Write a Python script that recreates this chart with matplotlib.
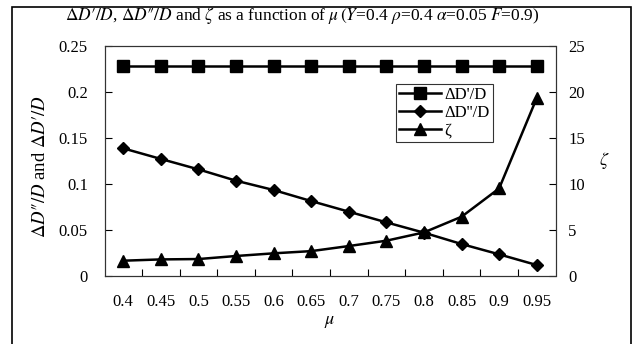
import matplotlib
matplotlib.use("Agg")
import matplotlib.pyplot as plt
from matplotlib.patches import Rectangle

plt.rcParams['font.family'] = ['Liberation Serif', 'DejaVu Serif']
plt.rcParams['mathtext.fontset'] = 'stix'

mu_labels = ["0.4", "0.45", "0.5", "0.55", "0.6", "0.65", "0.7", "0.75", "0.8", "0.85", "0.9", "0.95"]
dDp = [0.228] * 12
dDpp = [0.1385, 0.127, 0.1157, 0.1034, 0.0933, 0.0813, 0.0698, 0.0582, 0.047, 0.0347, 0.0235, 0.0119]
zeta = [1.66, 1.80, 1.84, 2.17, 2.46, 2.70, 3.25, 3.83, 4.73, 6.43, 9.5, 19.3]

W, H = 633, 344
fig = plt.figure(figsize=(W / 100, H / 100), dpi=100)
fig.patches.append(Rectangle((12 / W, -10 / H), 619 / W, 347 / H, transform=fig.transFigure,
                             fill=False, edgecolor='black', linewidth=1.2))

left, right, top, bottom = 104.5, 555.5, 45.6, 276
ax = fig.add_axes([left / W, 1 - bottom / H, (right - left) / W, (bottom - top) / H])
ax2 = ax.twinx()

x = list(range(len(mu_labels)))
l1, = ax.plot(x, dDp, color='black', lw=1.8, marker='s', markersize=8.5, label="ΔD'/D")
l2, = ax.plot(x, dDpp, color='black', lw=1.8, marker='D', markersize=6.5, label="ΔD''/D")
l3, = ax2.plot(x, zeta, color='black', lw=1.8, marker='^', markersize=9, label="ζ")

ax.set_xlim(-0.5, len(x) - 0.5)
ax.set_ylim(0, 0.25)
ax2.set_ylim(0, 25)
ax.set_yticks([0, 0.05, 0.1, 0.15, 0.2, 0.25])
ax.set_yticklabels(["0", "0.05", "0.1", "0.15", "0.2", "0.25"])
ax2.set_yticks([0, 5, 10, 15, 20, 25])

ax.set_xticks(x)
ax.set_xticklabels(mu_labels)
ax.set_xticks([i + 0.5 for i in x[:-1]], minor=True)
ax.tick_params(axis='x', which='major', length=0, pad=13, labelsize=12)
ax.tick_params(axis='x', which='minor', direction='in', length=5, width=0.8)
ax.tick_params(axis='y', direction='in', length=5, width=0.8, labelsize=12, pad=12)
ax2.tick_params(axis='y', direction='in', length=5, width=0.8, labelsize=12, pad=9)
for a in (ax, ax2):
    for s in a.spines.values():
        s.set_linewidth(0.8)
        s.set_color('#333333')

ax.set_xlabel(r"$\mu$", fontsize=13, labelpad=2)
ax.set_ylabel(r"$\Delta D″/D$ and $\Delta D′/D$", fontsize=13.5)
ax.yaxis.set_label_coords(-0.123, 0.477)
ax2.set_ylabel(r"$\zeta$", fontsize=13, rotation=0, labelpad=14, va='center')

fig.text(302 / W, 1 - 15 / H,
         r"$\Delta D′/D$, $\Delta D″/D$ and $\zeta$ as a function of $\mu\,(Y$=0.4 $\rho$=0.4 $\alpha$=0.05 $F$=0.9)",
         ha='center', va='center', fontsize=12.5)

leg = ax.legend(handles=[l1, l2, l3], loc='upper left',
                bbox_to_anchor=((396 - left) / (right - left), (bottom - 84) / (bottom - top)),
                frameon=True, fancybox=False, edgecolor='black', fontsize=12, handlelength=2.5,
                handletextpad=0.2, borderpad=0.2, labelspacing=0.1, borderaxespad=0)
leg.get_frame().set_linewidth(0.8)

fig.savefig("out.png", dpi=100)
